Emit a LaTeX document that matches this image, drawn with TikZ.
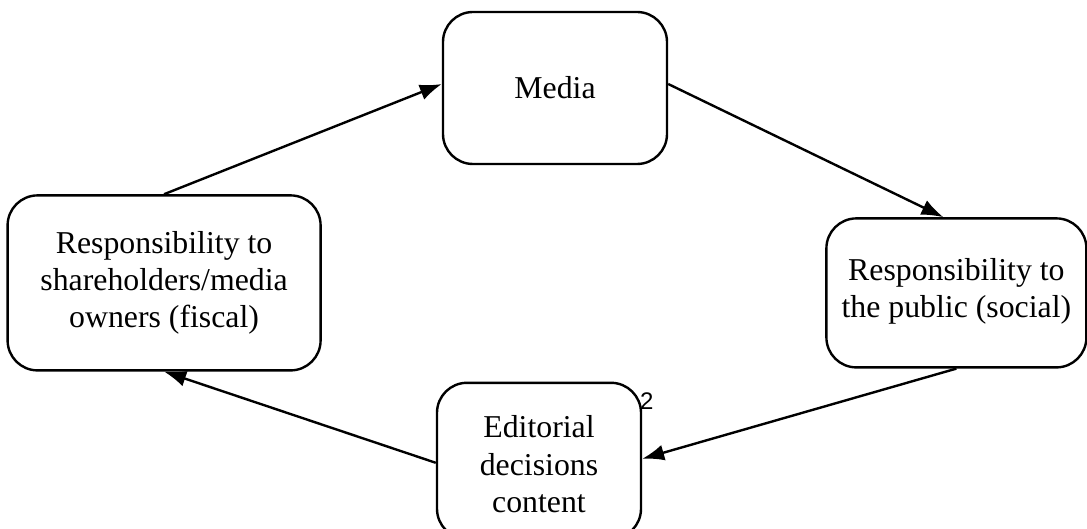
\documentclass[tikz,border=0pt]{standalone}
\usepackage{fontspec}
\setmainfont{Liberation Serif}
\setsansfont{Liberation Sans}
\usetikzlibrary{positioning,arrows.meta}

\begin{document}
\begin{tikzpicture}[x=0.5pt,y=-0.5pt,
    box/.style={draw, rounded corners=15pt, line width=1.2pt, align=center, inner sep=0pt,
        font=\fontsize{15.9}{18.7}\selectfont},
    flow/.style={-{Latex[length=11pt,width=8pt]}, line width=1.2pt}]
\useasboundingbox (0,0) rectangle (1087,529);

\node[box, minimum width=112pt, minimum height=76pt] (media) at (555,88) {Media};
\node[box, minimum width=156.5pt, minimum height=87.5pt] (owners) [below left=14.5pt and 60pt of media]
    {Responsibility to\\shareholders/media\\owners (fiscal)};
\node[box, minimum width=130pt, minimum height=74.5pt] (public) [below right=26pt and 78.5pt of media]
    {Responsibility to\\the public (social)\\[-13.5pt]};
\node[box, minimum width=102pt, minimum height=78pt] (editorial) [below right=5pt and 57pt of owners]
    {\\[-4pt]Editorial\\decisions\\content};

\node[inner sep=0pt, font=\sffamily\fontsize{12}{14}\selectfont] (pnum)
    at ([xshift=2.3pt,yshift=-10pt]editorial.north east) {2};

\draw[flow] (owners.north) -- ([yshift=2pt]media.west);
\draw[flow] ([yshift=2pt]media.east) -- ([xshift=-6.5pt]public.north);
\draw[flow] (public.south) -- ([yshift=1pt]editorial.east);
\draw[flow] ([yshift=-1pt]editorial.west) -- (owners.south);

\end{tikzpicture}
\end{document}
